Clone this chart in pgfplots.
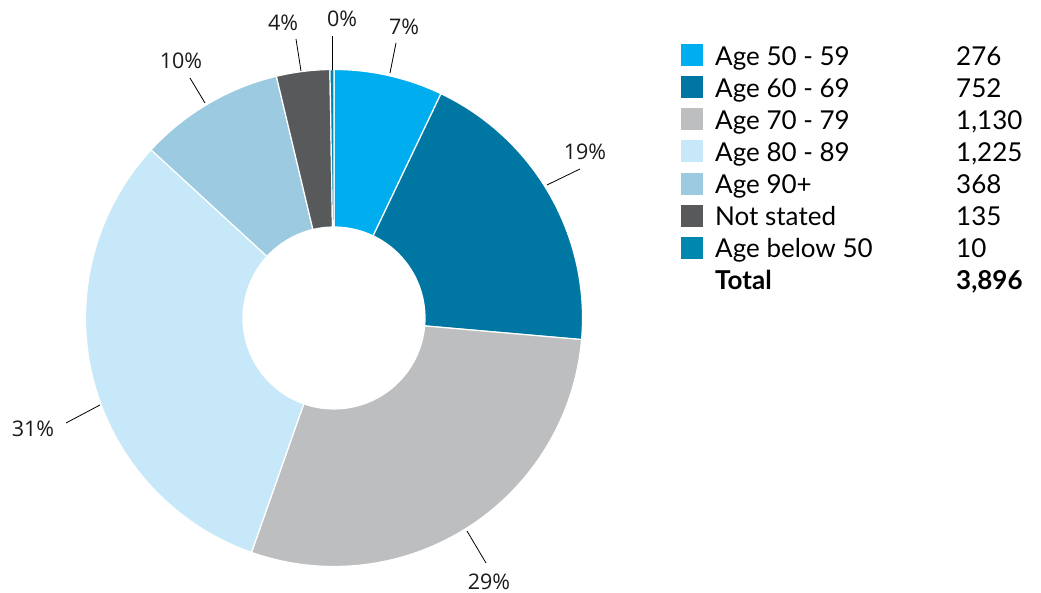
\documentclass[border=0pt]{standalone}
\usepackage{pgfplots}
\pgfplotsset{compat=1.18}
\usepackage{fontspec}
\setmainfont{Lato}
\newfontfamily\pctfont{Open Sans}
\definecolor{c1}{HTML}{00AEEF}
\definecolor{c2}{HTML}{0076A3}
\definecolor{c3}{HTML}{BCBEC0}
\definecolor{c4}{HTML}{C7E8F8}
\definecolor{c5}{HTML}{9CCBE1}
\definecolor{c6}{HTML}{58595B}
\definecolor{c7}{HTML}{0087AE}
\definecolor{txt}{HTML}{1A1A1A}
% data: counts per age group (clockwise from top)
\def\vA{276}\def\vB{752}\def\vC{1130}\def\vD{1225}\def\vE{368}\def\vF{135}\def\vG{10}
\pgfmathsetmacro{\tot}{\vA+\vB+\vC+\vD+\vE+\vF+\vG}
\pgfmathsetmacro{\aA}{90}
\pgfmathsetmacro{\aB}{\aA-360*(\vA/\tot)}
\pgfmathsetmacro{\aC}{\aB-360*(\vB/\tot)}
\pgfmathsetmacro{\aD}{\aC-360*(\vC/\tot)}
\pgfmathsetmacro{\aE}{\aD-360*(\vD/\tot)}
\pgfmathsetmacro{\aF}{\aE-360*(\vE/\tot)}
\pgfmathsetmacro{\aG}{\aF-360*(\vF/\tot)}
\pgfmathsetmacro{\aH}{\aG-360*(\vG/\tot)}
\def\Ro{248.5pt}\def\Ri{91pt}
\newcommand\sector[3]{\filldraw[fill=#1,draw=white,line width=1.2pt] (#2:\Ro) arc[start angle=#2,end angle=#3,radius=\Ro] -- (#3:\Ri) arc[start angle=#3,end angle=#2,radius=\Ri] -- cycle;}
\begin{document}
\begin{tikzpicture}
\begin{axis}[scale only axis, width=1041pt, height=593pt,
  xmin=0, xmax=1041, ymin=0, ymax=593, hide axis, clip=false]
\path (axis cs:0,0) (axis cs:1041,593);
\begin{scope}[shift={(axis cs:334,275)}]
\sector{c1}{\aA}{\aB}
\sector{c2}{\aB}{\aC}
\sector{c3}{\aC}{\aD}
\sector{c4}{\aD}{\aE}
\sector{c5}{\aE}{\aF}
\sector{c6}{\aF}{\aG}
\sector{c7}{\aG}{\aH}
\end{scope}
% leader lines
\addplot[black, line width=0.8pt] coordinates {(396,550) (390,520)};
\addplot[black, line width=0.8pt] coordinates {(332,557) (332,523)};
\addplot[black, line width=0.8pt] coordinates {(296,554) (301,522)};
\addplot[black, line width=0.8pt] coordinates {(190,515) (205,490)};
\addplot[black, line width=0.8pt] coordinates {(547,408) (580,424)};
\addplot[black, line width=0.8pt] coordinates {(467,62) (486,30)};
\addplot[black, line width=0.8pt] coordinates {(100,188) (66,170)};
% percent labels
\begin{scope}[every node/.style={font=\pctfont\fontsize{21.5}{24}\selectfont, text=txt, inner sep=0pt}]
\node at (axis cs:404,566) {7\%};
\node at (axis cs:342,574) {0\%};
\node at (axis cs:283,570) {4\%};
\node at (axis cs:181,532) {10\%};
\node at (axis cs:585,441) {19\%};
\node at (axis cs:489,11) {29\%};
\node at (axis cs:33,164) {31\%};
\end{scope}
% legend markers
\addplot[only marks, mark=square*, mark size=10.5pt, color=c1] coordinates {(691.5,538.5)};
\addplot[only marks, mark=square*, mark size=10.5pt, color=c2] coordinates {(691.5,506.3)};
\addplot[only marks, mark=square*, mark size=10.5pt, color=c3] coordinates {(691.5,474.1)};
\addplot[only marks, mark=square*, mark size=10.5pt, color=c4] coordinates {(691.5,441.9)};
\addplot[only marks, mark=square*, mark size=10.5pt, color=c5] coordinates {(691.5,409.7)};
\addplot[only marks, mark=square*, mark size=10.5pt, color=c6] coordinates {(691.5,377.5)};
\addplot[only marks, mark=square*, mark size=10.5pt, color=c7] coordinates {(691.5,345.3)};
\begin{scope}[every node/.style={font=\fontsize{26}{30}\selectfont, text=black, inner sep=0pt, anchor=base west}]
\node at (axis cs:715,527) {Age 50 - 59};   \node at (axis cs:956,527) {276};
\node at (axis cs:715,495) {Age 60 - 69};   \node at (axis cs:956,495) {752};
\node at (axis cs:715,463) {Age 70 - 79};   \node at (axis cs:956,463) {1,130};
\node at (axis cs:715,431) {Age 80 - 89};   \node at (axis cs:956,431) {1,225};
\node at (axis cs:715,399) {Age 90+};       \node at (axis cs:956,399) {368};
\node at (axis cs:715,367) {Not stated};    \node at (axis cs:956,367) {135};
\node at (axis cs:715,335) {Age below 50};  \node at (axis cs:956,335) {10};
\node[font=\fontsize{26}{30}\selectfont\bfseries] at (axis cs:715,303) {Total};
\node[font=\fontsize{26}{30}\selectfont\bfseries] at (axis cs:956,303) {3,896};
\end{scope}
\end{axis}
\end{tikzpicture}
\end{document}
